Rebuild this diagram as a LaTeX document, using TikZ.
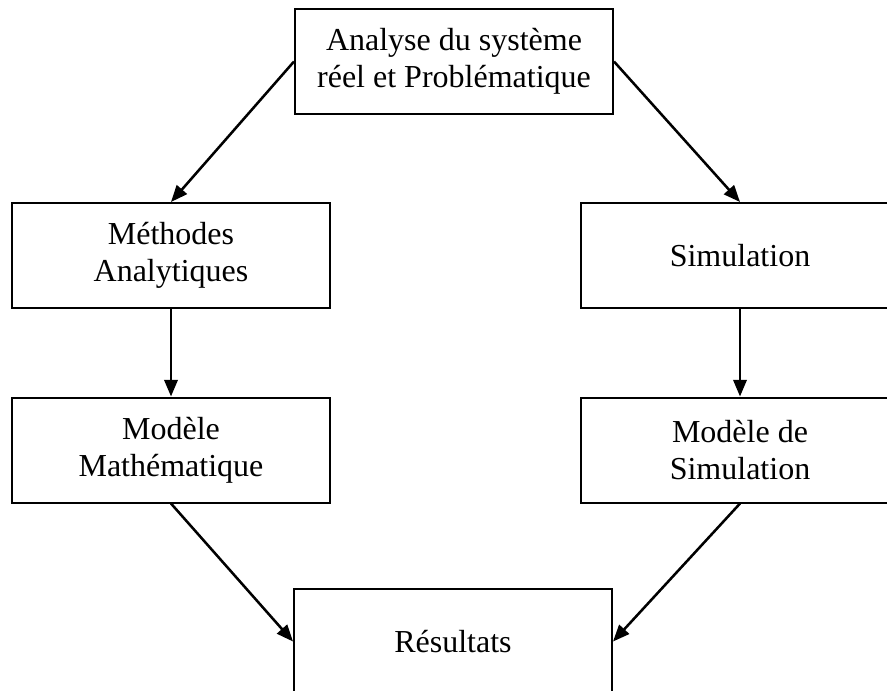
\documentclass[tikz,border=0pt]{standalone}
\usepackage{fontspec}
\setmainfont{Liberation Serif}
\usetikzlibrary{arrows.meta}
\begin{document}
\begin{tikzpicture}[x=0.75pt,y=-0.75pt,
  box/.style={draw=black,line width=1.5pt,fill=white,minimum width=238.5pt,minimum height=78.75pt,
    align=center,inner sep=0pt,font=\fontsize{24}{28}\selectfont},
  conn/.style={line width=1.9pt,-{Triangle[length=12.5pt,width=10pt]}}]
\useasboundingbox (0,0) rectangle (887,690);
\clip (0,0) rectangle (887,690);
\fill[white] (0,0) rectangle (887,690);
\node[box] (top) at (454,61.5) {Analyse du système\\réel et Problématique};
\node[box] (meth) at (171,255.5) {Méthodes\\Analytiques};
\node[box] (sim) at (740,255.5) {Simulation};
\node[box] (math) at (171,450) {Modèle\\Mathématique};
\node[box] (msim) at (740,450) {Modèle de\\Simulation};
\node[box] (res) at (453,641.5) {Résultats};
\draw[conn] (top.west) -- (meth.north);
\draw[conn] (top.east) -- (sim.north);
\draw[conn] (meth.south) -- (math.north);
\draw[conn] (sim.south) -- (msim.north);
\draw[conn] (math.south) -- (res.west);
\draw[conn] (msim.south) -- (res.east);
\end{tikzpicture}
\end{document}
